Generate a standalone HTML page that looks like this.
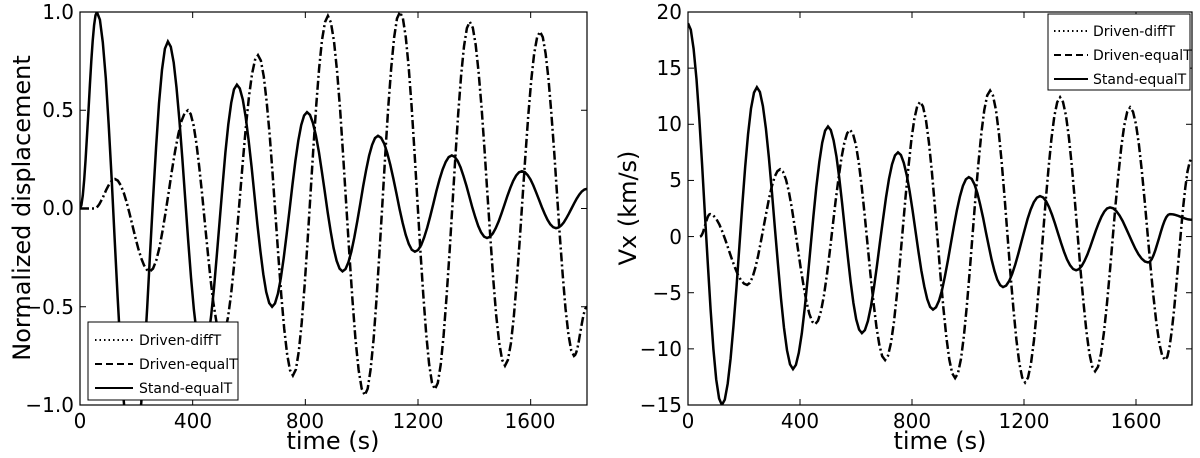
<!DOCTYPE html><html><head><style>body{margin:0;background:#fff}svg{display:block;font-family:"DejaVu Sans","Liberation Sans",sans-serif}</style></head><body>
<svg id="s" width="1200" height="458" xmlns="http://www.w3.org/2000/svg">
<defs><clipPath id="c1"><rect x="80" y="12" width="507" height="393"/></clipPath><clipPath id="c2"><rect x="688" y="12" width="504" height="393"/></clipPath></defs>
<g id="g1" clip-path="url(#c1)"></g><g id="g2" clip-path="url(#c2)"></g>
<rect x="80" y="12" width="507" height="393" fill="none" stroke="#000" stroke-width="1.2"/>
<rect x="688" y="12" width="504" height="393" fill="none" stroke="#000" stroke-width="1.2"/>
<g stroke="#000" stroke-width="1" id="ticks"></g>
<g font-size="20" text-anchor="end">
<text x="74" y="19">1.0</text><text x="74" y="117">0.5</text><text x="74" y="215">0.0</text><text x="74" y="314">−0.5</text><text x="74" y="412">−1.0</text>
<text x="682" y="19">20</text><text x="682" y="75">15</text><text x="682" y="131">10</text><text x="682" y="187">5</text><text x="682" y="244">0</text><text x="682" y="300">−5</text><text x="682" y="356">−10</text><text x="682" y="412">−15</text>
</g>
<g font-size="20" text-anchor="middle">
<text x="80" y="428">0</text><text x="193" y="428">400</text><text x="305" y="428">800</text><text x="418" y="428">1200</text><text x="530" y="428">1600</text>
<text x="688" y="428">0</text><text x="800" y="428">400</text><text x="912" y="428">800</text><text x="1024" y="428">1200</text><text x="1136" y="428">1600</text>
</g>
<g font-size="24" text-anchor="middle">
<text x="333" y="449">time (s)</text><text x="940" y="449">time (s)</text>
<text transform="translate(30,208) rotate(-90)">Normalized displacement</text>
<text transform="translate(636,208) rotate(-90)">Vx (km/s)</text>
</g>
<g font-size="14">
<rect x="88" y="322" width="150" height="78" fill="#fff" stroke="#000"/>
<line x1="95" y1="340" x2="133" y2="340" stroke="#000" stroke-width="2" stroke-dasharray="1.5,3"/><text x="139" y="345">Driven-diffT</text>
<line x1="95" y1="364" x2="133" y2="364" stroke="#000" stroke-width="2" stroke-dasharray="7,4"/><text x="139" y="369">Driven-equalT</text>
<line x1="95" y1="388" x2="133" y2="388" stroke="#000" stroke-width="2"/><text x="139" y="393">Stand-equalT</text>
<rect x="1048" y="14" width="142" height="76" fill="#fff" stroke="#000"/>
<line x1="1054" y1="31" x2="1088" y2="31" stroke="#000" stroke-width="2" stroke-dasharray="1.5,3"/><text x="1093" y="36">Driven-diffT</text>
<line x1="1054" y1="55" x2="1088" y2="55" stroke="#000" stroke-width="2" stroke-dasharray="7,4"/><text x="1093" y="60">Driven-equalT</text>
<line x1="1054" y1="79" x2="1088" y2="79" stroke="#000" stroke-width="2"/><text x="1093" y="84">Stand-equalT</text>
</g>
</svg>
<script>
const NS="http://www.w3.org/2000/svg";
function curve(pts,fx,fy){let d="";for(let i=0;i<pts.length-1;i++){const[a,va]=pts[i],[b,vb]=pts[i+1];for(let k=0;k<=12;k++){const f=k/12,t=a+(b-a)*f,v=va+(vb-va)*(1-Math.cos(Math.PI*f))/2;d+=(d?"L":"M")+fx(t).toFixed(1)+","+fy(v).toFixed(1);}}return d;}
function add(g,d,dash){const p=document.createElementNS(NS,"path");p.setAttribute("d",d);p.setAttribute("fill","none");p.setAttribute("stroke","#000");p.setAttribute("stroke-width","2.5");if(dash)p.setAttribute("stroke-dasharray",dash);document.getElementById(g).appendChild(p);}
function tick(x1,y1,x2,y2){const l=document.createElementNS(NS,"line");l.setAttribute("x1",x1);l.setAttribute("y1",y1);l.setAttribute("x2",x2);l.setAttribute("y2",y2);document.getElementById("ticks").appendChild(l);}
const fx1=t=>80+t*507/1800,fy1=v=>208.5-v*196.5;
const fx2=t=>688+t*504/1800,fy2=v=>12+(20-v)*393/35;
for(const t of [400,800,1200,1600]){tick(fx1(t),405,fx1(t),399);tick(fx1(t),12,fx1(t),18);tick(fx2(t),405,fx2(t),399);tick(fx2(t),12,fx2(t),18);}
for(const v of [0.5,0,-0.5]){tick(80,fy1(v),86,fy1(v));tick(587,fy1(v),581,fy1(v));}
for(const v of [15,10,5,0,-5,-10]){tick(688,fy2(v),694,fy2(v));tick(1192,fy2(v),1186,fy2(v));}
add("g1",curve([[0,0],[60,1],[186,-1.3],[312,0.85],[435,-0.75],[557,0.63],[682,-0.5],[806,0.49],[932,-0.32],[1058,0.37],[1189,-0.22],[1320,0.27],[1445,-0.15],[1569,0.19],[1690,-0.1],[1800,0.1]],fx1,fy1));
add("g1",curve([[0,0],[50,0],[124,0.15],[248,-0.32],[383,0.5],[504,-0.65],[632,0.78],[756,-0.85],[880,0.98],[1011,-0.95],[1136,1.0],[1260,-0.92],[1384,0.95],[1509,-0.8],[1633,0.9],[1754,-0.75],[1800,-0.5]],fx1,fy1),"9,3,2,3");
add("g2",curve([[0,19],[121,-15],[246,13.3],[375,-11.8],[500,9.8],[621,-8.6],[750,7.5],[875,-6.5],[1003,5.3],[1125,-4.5],[1257,3.6],[1386,-3],[1507,2.6],[1643,-2.3],[1721,2],[1800,1.5]],fx2,fy2));
add("g2",curve([[43,0],[79,2],[211,-4.3],[329,6],[454,-7.8],[579,9.5],[704,-11],[829,12],[954,-12.6],[1079,13],[1204,-13],[1329,12.4],[1454,-12],[1579,11.5],[1704,-11],[1800,7]],fx2,fy2),"9,3,2,3");
</script>
</body></html>
